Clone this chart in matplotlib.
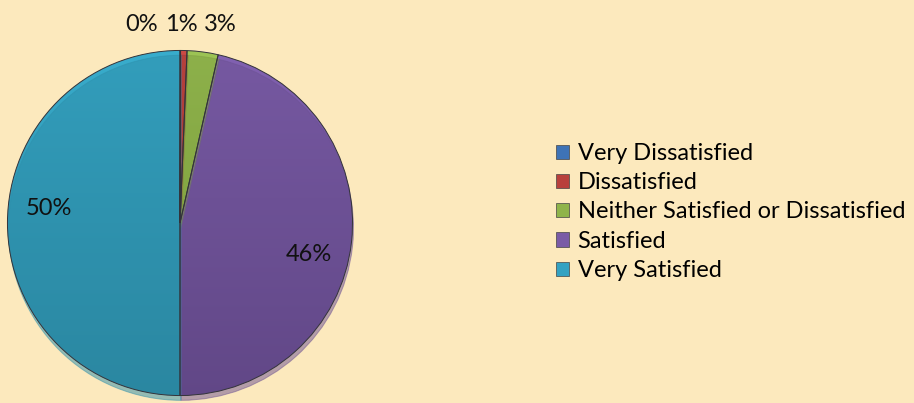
import matplotlib
matplotlib.use("Agg")
from matplotlib import pyplot as plt
from matplotlib.colors import LinearSegmentedColormap
from matplotlib.patches import Patch
import numpy as np

categories = ["Very Dissatisfied", "Dissatisfied", "Neither Satisfied or Dissatisfied",
              "Satisfied", "Very Satisfied"]
shares = [0.05, 0.6, 2.9, 46.45, 50.0]
colors = ["#3E73B6", "#B8403C", "#8FB44A", "#7A5BA6", "#33A2C2"]
# light (top) / dark (bottom) shades for the gradient fill
tops = ["#4A7FC4", "#CC4B46", "#9DC455", "#8262B2", "#39ADCD"]
bottoms = ["#30598F", "#9A332F", "#779A35", "#583F7C", "#287F97"]

# label positions in pie-radius units
label_pos = [(-0.22, 1.15), (0.006, 1.15), (0.233, 1.15), (0.745, -0.18), (-0.76, 0.085)]

bg = "#FCE9BD"
plt.rcParams["font.family"] = ["Lato", "DejaVu Sans"]

W, H = 914, 403
fig = plt.figure(figsize=(W / 100, H / 100), dpi=100, facecolor=bg)

cx, cy, r = 180, 223, 176
ax = fig.add_axes([(cx - r) / W, (H - cy - r) / H, 2 * r / W, 2 * r / H])
ax.set_facecolor(bg)

wedges, _ = ax.pie(shares, colors=colors, startangle=90, counterclock=False, radius=1,
                   wedgeprops=dict(edgecolor="#33333a", linewidth=0.7, zorder=3),
                   shadow=dict(ox=0.004, oy=-0.02, shade=0.12))
ax.set_xlim(-1.02, 1.02)
ax.set_ylim(-1.02, 1.02)
ax.set_aspect("equal")
ax.axis("off")

grad = np.linspace(1, 0, 256).reshape(-1, 1)
for i, w in enumerate(wedges):
    w.set_facecolor("none")
    cmap = LinearSegmentedColormap.from_list("g%d" % i, [bottoms[i], tops[i]])
    im = ax.imshow(grad, extent=[-1, 1, -1, 1], cmap=cmap, vmin=0, vmax=1,
                   aspect="auto", zorder=2, interpolation="bilinear")
    im.set_clip_path(w)

for i, w in enumerate(wedges):
    x, y = label_pos[i]
    ax.text(x, y, "{:.0f}%".format(shares[i]), ha="center", va="center", fontsize=17,
            color="#111111", clip_on=False, zorder=5)

handles = [Patch(facecolor=c, edgecolor="#444444", linewidth=0.5) for c in colors]
fig.legend(handles, categories, loc="center left", bbox_to_anchor=(535 / W, (H - 212) / H),
           frameon=False, fontsize=17, handlelength=0.55, handleheight=0.55,
           handletextpad=0.35, labelspacing=0.35)

fig.savefig("out.png", dpi=100, facecolor=bg)
